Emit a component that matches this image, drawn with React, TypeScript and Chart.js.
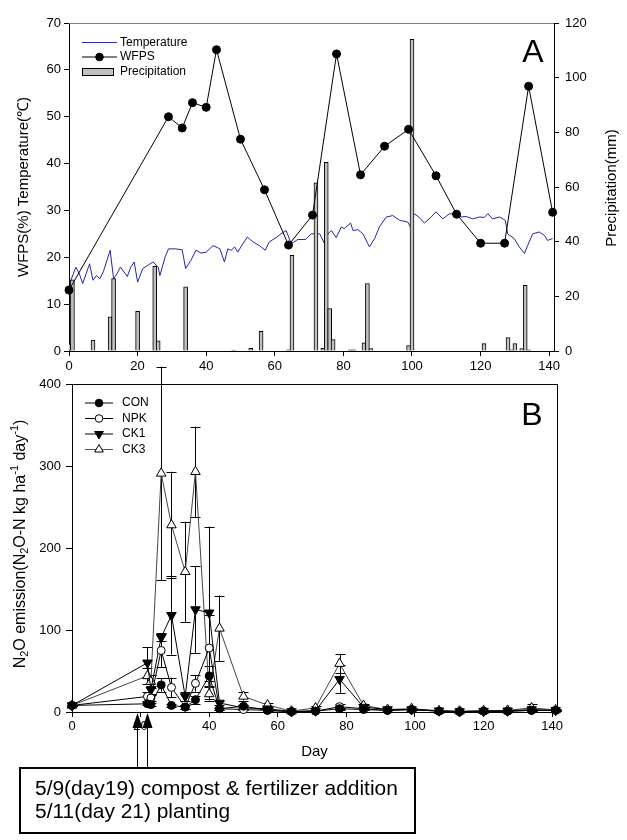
import React, { useEffect, useRef } from 'react';
import { Chart, registerables } from 'chart.js';

Chart.register(...registerables);

const FAMILY = '"Liberation Sans", Arial, sans-serif';

// ---------------- Panel A data ----------------
const wfpsDays = [0, 29, 33, 36, 40, 43, 50, 57, 64, 71, 78, 85, 92, 99, 107, 113, 120, 127, 134, 141];
const wfpsValues = [13, 50, 47.6, 53, 52, 64.3, 45.2, 34.4, 22.6, 29, 63.4, 37.6, 43.7, 47.3, 37.4, 29.2, 23, 23, 56.5, 29.6];

const tempDays = [0.5, 2, 3, 4, 5, 6, 7, 8, 9, 10, 12, 13, 14, 15, 17, 18, 19, 20, 21.5, 23, 24.5, 26, 26.5, 28, 29, 31, 33, 34, 35.5, 37, 38.5, 40, 42, 44, 45.3, 46.3, 47.3, 48.3, 49.2, 50.7, 52, 53.6, 55.5, 57.2, 58.4, 60.4, 61.8, 63.3, 64.8, 66.7, 69, 70.6, 73.1, 74.5, 75.5, 76.5, 77.9, 79.4, 80.2, 82.1, 82.8, 84.2, 85.7, 87.6, 89.1, 90.5, 92.5, 94.4, 96.4, 98.8, 99.5, 100.4, 102, 103.6, 105.6, 107, 109, 110.9, 112.9, 114.3, 115.8, 117.7, 119.7, 121.1, 122.1, 123.5, 125.5, 127.2, 127.9, 129.8, 131.3, 132.8, 133.7, 135.2, 137.1, 138.6, 139.5, 141];
const tempValues = [15, 17.9, 16.5, 14.4, 16.5, 18.6, 15.1, 16.1, 15.4, 16.9, 21.5, 15.4, 16.5, 17.9, 15.9, 17.9, 19, 14.7, 17.6, 18.3, 19, 17.9, 16.1, 20, 21.8, 21.8, 21.6, 17.6, 19.3, 21.5, 20.9, 21.1, 22.5, 21.8, 19, 21.8, 21.5, 22.2, 21.1, 22.9, 24.3, 23.3, 22.5, 21.5, 23.3, 24.2, 25, 25.7, 22.9, 23.8, 23.8, 25, 25, 22.9, 25, 25.7, 24.2, 26.5, 26.1, 27.3, 25.7, 25.9, 25, 22.2, 24, 26.5, 28.6, 28.9, 27.9, 27.5, 26.5, 29.4, 28.6, 27.3, 28.6, 29.7, 28.2, 29.3, 29.2, 28.6, 28.7, 28.2, 28.6, 28.5, 29.3, 28.2, 28.6, 27.9, 25, 24, 22.2, 20.8, 22.5, 25, 25.4, 24.7, 23.6, 24];

const precipDays = [0, 1, 7, 12, 13, 20, 25, 26, 34, 48, 53, 56, 64, 65, 72, 74, 75, 76, 77, 82, 83, 86, 87, 88, 99, 100, 121, 128, 129, 130, 132, 133, 134];
const precipValues = [2.5, 26, 4, 12.5, 26.5, 14.5, 31, 3.7, 23.5, 0.3, 1, 7.2, 0.4, 35, 61.5, 1, 69, 15.5, 4.2, 0.4, 0.4, 3, 24.7, 0.9, 2, 114, 2.7, 4.9, 0.4, 2.7, 0.9, 24, 0.4];

// ---------------- Panel B data ----------------
const n2oDays = [0, 22, 23, 26, 29, 33, 36, 40, 43, 50, 57, 64, 71, 78, 85, 92, 99, 107, 113, 120, 127, 134, 141];
const conValues = [8, 10, 9, 33, 8, 6, 15, 44, 4, 7, 2, 0.5, 1, 4, 3, 2, 3, 1, 0.5, 1, 1, 2, 2];
const conErr = [1, 2, 2, 8, 2, 2, 5, 12, 1, 2, 1, 0, 0, 1, 1, 0, 1, 0, 0, 0, 0, 1, 1];
const npkValues = [8, 19, 17, 75, 30, 6, 35, 78, 4, 3, 2, 0.5, 1, 6.5, 4, 2, 3, 1, 0.5, 1, 1, 2, 2];
const npkErr = [1, 5, 4, 20, 12, 2, 10, 40, 1, 1, 1, 0, 0, 3, 1, 0, 1, 0, 0, 0, 0, 1, 1];
const ck1Values = [8, 60, 27, 91, 118, 19, 125, 121, 11, 5, 4, 0.5, 1.5, 40, 6, 3, 3, 1.5, 0.5, 1, 1.5, 3, 2];
const ck1Err = [1, 19, 5, 5, 48, 5, 53, 105, 3, 2, 1, 0, 1, 17, 2, 1, 1, 0, 0, 0, 0, 1, 1];
const ck3Values = [8, 44, 37, 291, 228, 171, 293, 22, 102, 19, 8.5, 1, 5, 59, 8, 3, 4, 1.5, 1, 1.5, 2, 5, 2.5];
const ck3Err = [1, 10, 8, 130, 65, 61, 55, 8, 40, 5, 2, 1, 2, 12, 2, 1, 1, 0, 0, 1, 1, 5, 1];

const eventDays = [19, 22];
const noteLines = ['5/9(day19) compost & fertilizer addition', '5/11(day 21) planting'];

const X_MAX = 141.4;

function pts(xs: number[], ys: number[]) {
  return xs.map((x, i) => ({ x, y: ys[i] }));
}

function drawCircle(ctx: CanvasRenderingContext2D, x: number, y: number, r: number, fill: string) {
  ctx.beginPath();
  ctx.arc(x, y, r, 0, Math.PI * 2);
  ctx.fillStyle = fill;
  ctx.fill();
  ctx.strokeStyle = '#000';
  ctx.lineWidth = 1;
  ctx.stroke();
}

function drawTri(ctx: CanvasRenderingContext2D, x: number, y: number, r: number, up: boolean, fill: string) {
  const s = up ? 1 : -1;
  ctx.beginPath();
  ctx.moveTo(x, y - s * r);
  ctx.lineTo(x + r * 0.866, y + s * r * 0.5);
  ctx.lineTo(x - r * 0.866, y + s * r * 0.5);
  ctx.closePath();
  ctx.fillStyle = fill;
  ctx.fill();
  ctx.strokeStyle = '#000';
  ctx.lineWidth = 1;
  ctx.stroke();
}

function hLine(ctx: CanvasRenderingContext2D, x1: number, x2: number, y: number, color: string) {
  ctx.beginPath();
  ctx.moveTo(x1, y);
  ctx.lineTo(x2, y);
  ctx.strokeStyle = color;
  ctx.lineWidth = 1;
  ctx.stroke();
}

const topPlugin = {
  id: 'topDeco',
  afterDraw(chart: any) {
    const { ctx, chartArea: a } = chart;
    ctx.save();
    hLine(ctx, a.left, a.right, a.top + 0.5, '#808080');
    ctx.fillStyle = '#000';
    ctx.textBaseline = 'middle';
    ctx.textAlign = 'center';
    ctx.font = `15px ${FAMILY}`;
    ctx.save();
    ctx.translate(24, 187);
    ctx.rotate(-Math.PI / 2);
    ctx.fillText('WFPS(%) Temperature(\u2103)', 0, 0);
    ctx.restore();
    ctx.save();
    ctx.translate(612, 188);
    ctx.rotate(-Math.PI / 2);
    ctx.fillText('Precipitation(mm)', 0, 0);
    ctx.restore();
    ctx.font = `32px ${FAMILY}`;
    ctx.fillText('A', 533, 53);
    // legend
    const lx1 = a.left + 13, lx2 = a.left + 48, tx = a.left + 51;
    ctx.font = `12px ${FAMILY}`;
    ctx.textAlign = 'left';
    hLine(ctx, lx1, lx2, 42.5, '#2b2bb0');
    ctx.fillStyle = '#000';
    ctx.fillText('Temperature', tx, 42.5);
    hLine(ctx, lx1, lx2, 57, '#000');
    drawCircle(ctx, (lx1 + lx2) / 2, 57, 3.8, '#000');
    ctx.fillStyle = '#000';
    ctx.fillText('WFPS', tx, 57);
    ctx.fillStyle = '#c0c0c0';
    ctx.fillRect(lx1 + 0.5, 68.5, 31, 7);
    ctx.strokeStyle = '#000';
    ctx.lineWidth = 1;
    ctx.strokeRect(lx1 + 0.5, 68.5, 31, 7);
    ctx.fillStyle = '#000';
    ctx.fillText('Precipitation', tx, 72);
    ctx.restore();
  },
};

const errPlugin = {
  id: 'errBars',
  beforeDatasetsDraw(chart: any) {
    const { ctx } = chart;
    const xs = chart.scales.x;
    const ys = chart.scales.y;
    ctx.save();
    ctx.strokeStyle = '#000';
    ctx.lineWidth = 1;
    chart.data.datasets.forEach((ds: any) => {
      const errs: number[] = ds.errors || [];
      ds.data.forEach((p: any, i: number) => {
        const e = errs[i];
        if (!e) return;
        const x = Math.round(xs.getPixelForValue(p.x)) + 0.5;
        const yHi = ys.getPixelForValue(p.y + e);
        const yLo = ys.getPixelForValue(Math.max(0, p.y - e));
        ctx.beginPath();
        ctx.moveTo(x, yHi);
        ctx.lineTo(x, yLo);
        ctx.moveTo(x - 5, Math.round(yHi) + 0.5);
        ctx.lineTo(x + 5, Math.round(yHi) + 0.5);
        ctx.moveTo(x - 5, Math.round(yLo) + 0.5);
        ctx.lineTo(x + 5, Math.round(yLo) + 0.5);
        ctx.stroke();
      });
    });
    ctx.restore();
  },
};

const botPlugin = {
  id: 'botDeco',
  afterDraw(chart: any) {
    const { ctx, chartArea: a } = chart;
    const xs = chart.scales.x;
    ctx.save();
    hLine(ctx, a.left, a.right + 0.5, a.top + 0.5, '#000');
    ctx.beginPath();
    ctx.moveTo(a.right + 0.5, a.top);
    ctx.lineTo(a.right + 0.5, a.bottom);
    ctx.stroke();
    ctx.fillStyle = '#000';
    ctx.textBaseline = 'middle';
    ctx.textAlign = 'center';
    ctx.font = `32px ${FAMILY}`;
    ctx.fillText('B', 532, a.top + 32);
    ctx.font = `15px ${FAMILY}`;
    ctx.fillText('Day', (a.left + a.right) / 2, a.bottom + 40);

    const parts: [string, number][] = [
      ['N', 0], ['2', 1], ['O emission(N', 0], ['2', 1], ['O-N kg ha', 0], ['-1', 2], [' day', 0], ['-1', 2], [')', 0],
    ];
    const fontFor = (k: number) => (k === 0 ? `16px ${FAMILY}` : `11px ${FAMILY}`);
    let total = 0;
    parts.forEach(([t, k]) => { ctx.font = fontFor(k); total += ctx.measureText(t).width; });
    ctx.save();
    ctx.translate(19, a.top + 160);
    ctx.rotate(-Math.PI / 2);
    ctx.textAlign = 'left';
    ctx.textBaseline = 'alphabetic';
    let cx = -total / 2;
    parts.forEach(([t, k]) => {
      ctx.font = fontFor(k);
      const dy = k === 1 ? 9 : k === 2 ? -1 : 5.5;
      ctx.fillText(t, cx, dy);
      cx += ctx.measureText(t).width;
    });
    ctx.restore();

    const rows: [string, (x: number, y: number) => void, string][] = [
      ['CON', (x, y) => drawCircle(ctx, x, y, 3.8, '#000'), '#000'],
      ['NPK', (x, y) => drawCircle(ctx, x, y, 3.8, '#fff'), '#000'],
      ['CK1', (x, y) => drawTri(ctx, x, y, 5, false, '#000'), '#000'],
      ['CK3', (x, y) => drawTri(ctx, x, y, 5, true, '#fff'), '#555'],
    ];
    const lx1 = a.left + 13, lx2 = a.left + 41;
    rows.forEach(([label, mk, col], i) => {
      const y = a.top + 19 + i * 15.5;
      hLine(ctx, lx1, lx2, y, col);
      mk((lx1 + lx2) / 2, y);
      ctx.fillStyle = '#000';
      ctx.font = `12px ${FAMILY}`;
      ctx.textAlign = 'left';
      ctx.textBaseline = 'middle';
      ctx.fillText(label, a.left + 50, y);
    });

    const boxTop = a.bottom + 56;
    const boxBot = a.bottom + 121;
    eventDays.forEach((d) => {
      const x = Math.round(xs.getPixelForValue(d)) + 0.5;
      ctx.beginPath();
      ctx.moveTo(x, a.bottom + 1);
      ctx.lineTo(x + 5, a.bottom + 16);
      ctx.lineTo(x - 5, a.bottom + 16);
      ctx.closePath();
      ctx.fillStyle = '#000';
      ctx.fill();
      ctx.beginPath();
      ctx.moveTo(x, a.bottom + 16);
      ctx.lineTo(x, boxTop);
      ctx.strokeStyle = '#000';
      ctx.lineWidth = 1;
      ctx.stroke();
    });
    ctx.lineWidth = 2;
    ctx.strokeStyle = '#000';
    ctx.strokeRect(20, boxTop, 395, boxBot - boxTop);
    ctx.fillStyle = '#000';
    ctx.textAlign = 'left';
    ctx.textBaseline = 'middle';
    ctx.font = `16px ${FAMILY}`;
    const w = ctx.measureText(noteLines[0]).width;
    const size = (16 * 363) / w;
    ctx.font = `${size.toFixed(2)}px ${FAMILY}`;
    ctx.fillText(noteLines[0], 35, boxTop + 21);
    ctx.fillText(noteLines[1], 35, boxTop + 44);
    ctx.restore();
  },
};

const tickFont = { family: FAMILY, size: 13 };

export default function App() {
  const topRef = useRef<HTMLCanvasElement>(null);
  const botRef = useRef<HTMLCanvasElement>(null);

  useEffect(() => {
    const c1 = new Chart(topRef.current as HTMLCanvasElement, {
      type: 'bar',
      data: {
        datasets: [
          {
            type: 'line',
            label: 'WFPS',
            data: pts(wfpsDays, wfpsValues),
            yAxisID: 'y',
            borderColor: '#000',
            borderWidth: 1,
            pointRadius: 4,
            pointBackgroundColor: '#000',
            pointBorderColor: '#000',
            pointBorderWidth: 1,
            tension: 0,
            clip: false,
          } as any,
          {
            type: 'bar',
            label: 'Precipitation',
            data: pts(precipDays, precipValues),
            yAxisID: 'y1',
            backgroundColor: '#c0c0c0',
            borderColor: '#000',
            borderWidth: 1,
            barThickness: 4,
          } as any,
          {
            type: 'line',
            label: 'Temperature',
            data: pts(tempDays, tempValues),
            yAxisID: 'y',
            borderColor: '#2424a8',
            borderWidth: 1,
            pointRadius: 0,
            tension: 0,
          } as any,
        ],
      },
      options: {
        responsive: false,
        animation: false,
        devicePixelRatio: 1,
        layout: { padding: { top: 23, left: 0, right: 0, bottom: 0 } },
        plugins: { legend: { display: false }, tooltip: { enabled: false } },
        scales: {
          x: {
            type: 'linear',
            min: 0,
            max: X_MAX,
            offset: false,
            ticks: { stepSize: 20, includeBounds: false, font: tickFont, color: '#000', padding: 3, maxRotation: 0 },
            grid: { offset: false, drawOnChartArea: false, drawTicks: true, tickLength: 5, color: '#000' },
            border: { display: true, color: '#000', width: 1 },
            afterFit: (s: any) => { s.height = 29; },
          },
          y: {
            position: 'left',
            min: 0,
            max: 70,
            ticks: { stepSize: 10, font: tickFont, color: '#000', padding: 3 },
            grid: { drawOnChartArea: false, drawTicks: true, tickLength: 5, color: '#000' },
            border: { display: true, color: '#000', width: 1 },
            afterFit: (s: any) => { s.width = 69; },
          },
          y1: {
            position: 'right',
            min: 0,
            max: 120,
            ticks: { stepSize: 20, font: tickFont, color: '#000', padding: 6 },
            grid: { drawOnChartArea: false, drawTicks: true, tickLength: 5, color: '#000' },
            border: { display: true, color: '#000', width: 1 },
            afterFit: (s: any) => { s.width = 73; },
          },
        },
      } as any,
      plugins: [topPlugin],
    });

    const mk = (label: string, xs: number[], ys: number[], errs: number[], style: string, rot: number, fill: string, line: string, r: number) => ({
      type: 'line',
      label,
      data: pts(xs, ys),
      errors: errs,
      borderColor: line,
      borderWidth: 1,
      pointStyle: style,
      rotation: rot,
      pointRadius: r,
      pointBackgroundColor: fill,
      pointBorderColor: '#000',
      pointBorderWidth: 1,
      tension: 0,
      clip: false,
    });

    const c2 = new Chart(botRef.current as HTMLCanvasElement, {
      type: 'line',
      data: {
        datasets: [
          mk('CON', n2oDays, conValues, conErr, 'circle', 0, '#000', '#000', 4),
          mk('NPK', n2oDays, npkValues, npkErr, 'circle', 0, '#fff', '#000', 4),
          mk('CK1', n2oDays, ck1Values, ck1Err, 'triangle', 180, '#000', '#000', 5.5),
          mk('CK3', n2oDays, ck3Values, ck3Err, 'triangle', 0, '#fff', '#444', 5.5),
        ] as any,
      },
      options: {
        responsive: false,
        animation: false,
        devicePixelRatio: 1,
        layout: { padding: { top: 44, left: 0, right: 70, bottom: 98 } },
        plugins: { legend: { display: false }, tooltip: { enabled: false } },
        scales: {
          x: {
            type: 'linear',
            min: 0,
            max: X_MAX,
            offset: false,
            ticks: { stepSize: 20, includeBounds: false, font: tickFont, color: '#000', padding: 2, maxRotation: 0 },
            grid: { offset: false, drawOnChartArea: false, drawTicks: true, tickLength: 5, color: '#000' },
            border: { display: true, color: '#000', width: 1 },
            afterFit: (s: any) => { s.height = 30; },
          },
          y: {
            position: 'left',
            min: 0,
            max: 400,
            ticks: { stepSize: 100, font: tickFont, color: '#000', padding: 5 },
            grid: { drawOnChartArea: false, drawTicks: true, tickLength: 6, color: '#000' },
            border: { display: true, color: '#000', width: 1 },
            afterFit: (s: any) => { s.width = 72; },
          },
        },
      } as any,
      plugins: [errPlugin, botPlugin],
    });

    return () => {
      c1.destroy();
      c2.destroy();
    };
  }, []);

  return (
    <div style={{ position: 'absolute', left: 0, top: 0, width: 627, height: 840, background: '#fff' }}>
      <canvas ref={topRef} width={627} height={380} style={{ position: 'absolute', left: 0, top: 0 }} />
      <canvas ref={botRef} width={627} height={500} style={{ position: 'absolute', left: 0, top: 340 }} />
    </div>
  );
}
